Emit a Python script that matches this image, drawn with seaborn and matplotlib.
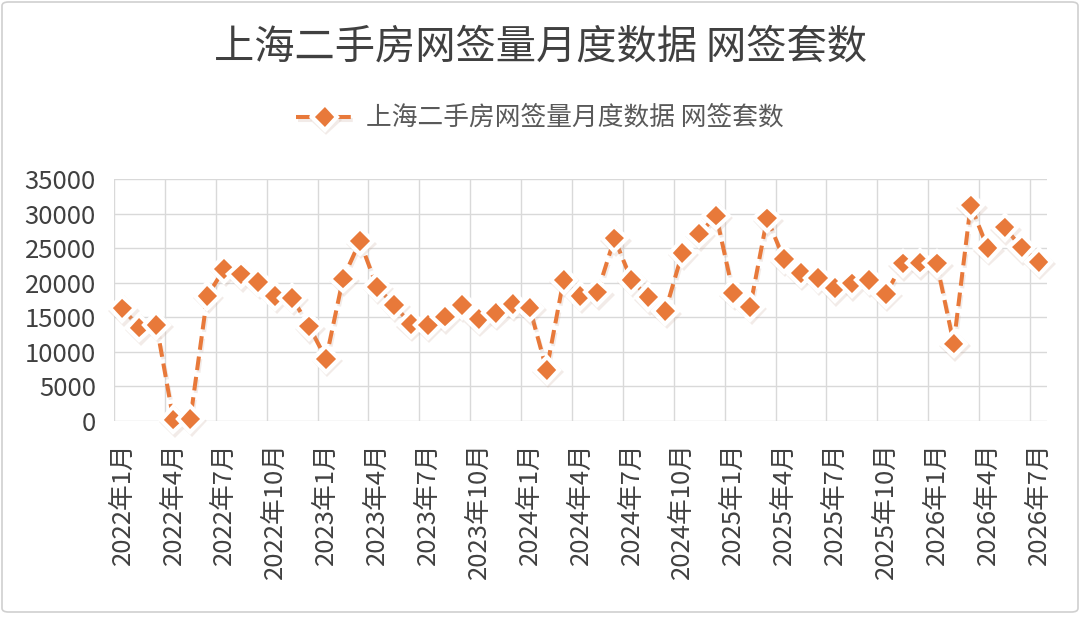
import matplotlib
matplotlib.use("Agg")
import matplotlib.pyplot as plt
import matplotlib.patheffects as pe
from matplotlib.patches import FancyBboxPatch
import seaborn as sns
import pandas as pd

# ---------------- data ----------------
title_text = "上海二手房网签量月度数据 网签套数"
series_name = "上海二手房网签量月度数据 网签套数"
years = [2022, 2023, 2024, 2025, 2026]
months = [f"{y}年{m}月" for y in years for m in range(1, 13)][:55]
values = [
    16300, 13500, 13900, 200, 300, 18100, 22000, 21200, 20100, 18100, 17800, 13700,
    9000, 20600, 26000, 19400, 16800, 14000, 13900, 15100, 16800, 14750, 15600, 16900,
    16400, 7400, 20400, 18100, 18600, 26400, 20400, 17900, 15900, 24300, 27100, 29700,
    18500, 16500, 29300, 23400, 21400, 20700, 19200, 19900, 20400, 18400, 22800, 22900,
    22800, 11200, 31200, 25000, 28000, 25100, 23000,
]
y_ticks = [0, 5000, 10000, 15000, 20000, 25000, 30000, 35000]

# ---------------- style ----------------
orange = "#E8793A"
grid_c = "#D9D9D9"
text_c = "#404040"

sns.set_theme(style="white")
plt.rcParams["font.family"] = ["Noto Sans CJK SC", "DejaVu Sans"]

W, H = 1080, 633
fig = plt.figure(figsize=(W / 100, H / 100), dpi=100)
fig.patch.set_facecolor("white")

ax = fig.add_axes([114 / W, 1 - 421 / H, (1047 - 114) / W, (421 - 179) / H])

df = pd.DataFrame({"月份": months, "网签套数": values})
sns.lineplot(
    data=df, x="月份", y="网签套数", ax=ax, sort=False, color=orange,
    linewidth=2.9, marker="D", markersize=13, markerfacecolor=orange,
    markeredgecolor="white", markeredgewidth=3.0, legend=False,
)
line = ax.lines[0]
line.set_dashes((3.4, 1.7))
line.set_clip_on(False)
line.set_path_effects([
    pe.SimpleLineShadow(offset=(1, -1.8), shadow_color="#C8A898", alpha=0.22),
    pe.Normal(),
])

ax.set_xlim(-0.5, len(months) - 0.5)
ax.set_ylim(0, 35000)
ax.set_yticks(y_ticks)
ax.set_yticklabels([str(v) for v in y_ticks])
ax.set_xticks(list(range(0, len(months), 3)))
ax.set_xticklabels(months[::3], rotation=90, va="top", ha="center")
ax.set_xticks([i - 0.5 for i in range(0, len(months), 3)], minor=True)

ax.grid(False)
ax.grid(which="major", axis="y", color=grid_c, linewidth=1)
ax.grid(which="minor", axis="x", color=grid_c, linewidth=1)
ax.set_axisbelow(True)
for s in ax.spines.values():
    s.set_visible(False)
ax.set_xlabel("")
ax.set_ylabel("")
ax.tick_params(axis="x", which="both", length=0, pad=15, labelsize=18.5, labelcolor=text_c)
ax.tick_params(axis="y", which="both", length=0, pad=13, labelsize=18.5, labelcolor=text_c)

fig.text(0.5, 1 - 47 / H, title_text, ha="center", va="center",
         fontsize=29, color=text_c)

fig.legend(handles=[line], labels=[series_name], loc="center",
           bbox_to_anchor=(0.5, 1 - 119 / H), frameon=False, fontsize=18.5,
           handlelength=2.2, handletextpad=0.5, labelcolor="#595959")

border = FancyBboxPatch((2 / W, 1 - 612 / H), 1076 / W, 610 / H,
                        boxstyle="round,pad=0,rounding_size=0.006",
                        transform=fig.transFigure, fill=False,
                        edgecolor="#D0D0D0", linewidth=1.2)
fig.add_artist(border)

fig.savefig("out.png", dpi=100, facecolor="white")
